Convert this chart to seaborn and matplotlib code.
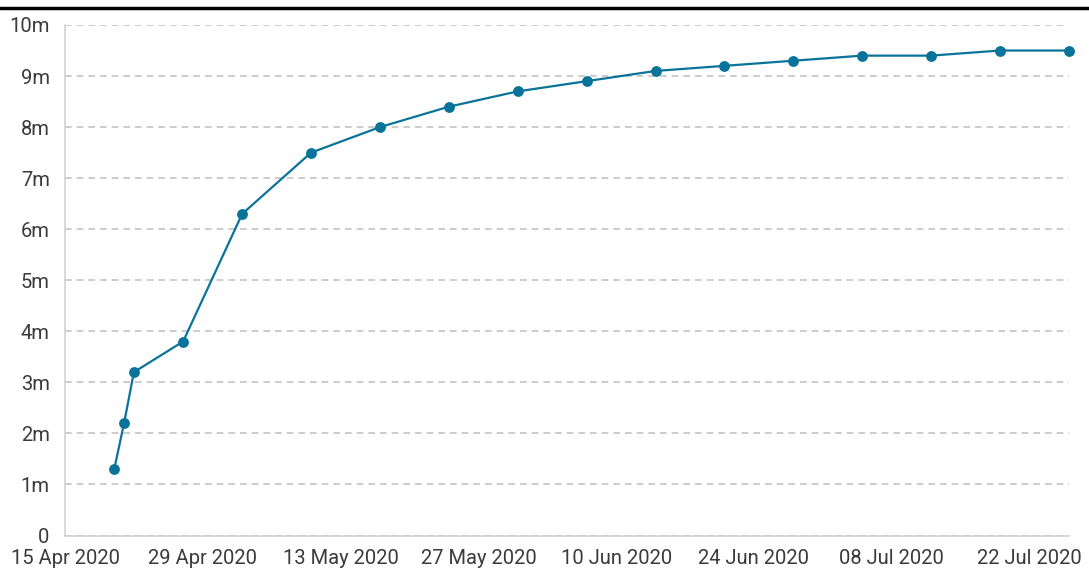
import pandas as pd
import numpy as np
import matplotlib
matplotlib.use('Agg')
import matplotlib.pyplot as plt
import matplotlib.dates as mdates
from matplotlib.ticker import FuncFormatter
import seaborn as sns

dates = ['2020-04-20', '2020-04-21', '2020-04-22', '2020-04-27', '2020-05-03',
         '2020-05-10', '2020-05-17', '2020-05-24', '2020-05-31', '2020-06-07',
         '2020-06-14', '2020-06-21', '2020-06-28', '2020-07-05', '2020-07-12',
         '2020-07-19', '2020-07-26']
values = [1.3, 2.2, 3.2, 3.8, 6.3, 7.5, 8.0, 8.4, 8.7, 8.9, 9.1, 9.2, 9.3,
          9.4, 9.4, 9.5, 9.5]
tick_dates = ['2020-04-15', '2020-04-29', '2020-05-13', '2020-05-27',
              '2020-06-10', '2020-06-24', '2020-07-08', '2020-07-22']

data = pd.DataFrame({'date': pd.to_datetime(dates), 'value': values})

sns.set_style('white')
plt.rcParams['font.family'] = ['Roboto', 'DejaVu Sans']

fig = plt.figure(figsize=(10.89, 5.72), dpi=100)
ax = fig.add_axes([0.0597, 0.0638, 0.9219, 0.8925])

sns.lineplot(data=data, x='date', y='value', ax=ax, color='#0a7399',
             linewidth=1.6, marker='o', markersize=7.8, markeredgewidth=0,
             clip_on=False, zorder=5)

ax.set_xlim(pd.Timestamp('2020-04-15'), pd.Timestamp('2020-07-26'))
ax.set_ylim(0, 10)
ax.set_xticks(pd.to_datetime(tick_dates))
ax.xaxis.set_major_formatter(mdates.DateFormatter('%d %b %Y'))
ax.set_yticks(np.arange(0, 11, 1))
ax.yaxis.set_major_formatter(FuncFormatter(lambda v, p: '0' if v == 0 else f'{int(v)}m'))

ax.grid(axis='y', color='#c4c4c4', linestyle=(0, (4, 3)), linewidth=1.2)
ax.set_xlabel('')
ax.set_ylabel('')
for s in ['top', 'right']:
    ax.spines[s].set_visible(False)
for s in ['left', 'bottom']:
    ax.spines[s].set_color('#cfcfcf')
    ax.spines[s].set_linewidth(1.1)

ax.tick_params(axis='x', length=6, color='#bbbbbb', width=1, labelsize=14.5,
               labelcolor='#3a3a3a', pad=4)
ax.tick_params(axis='y', length=6, color='#cccccc', width=1, labelsize=14.5,
               labelcolor='#3a3a3a', pad=5)

fig.add_artist(plt.Line2D([0, 1], [1 - 8 / 572, 1 - 8 / 572], color='black',
                          linewidth=2.5, transform=fig.transFigure))

fig.savefig('out.png', dpi=100)
